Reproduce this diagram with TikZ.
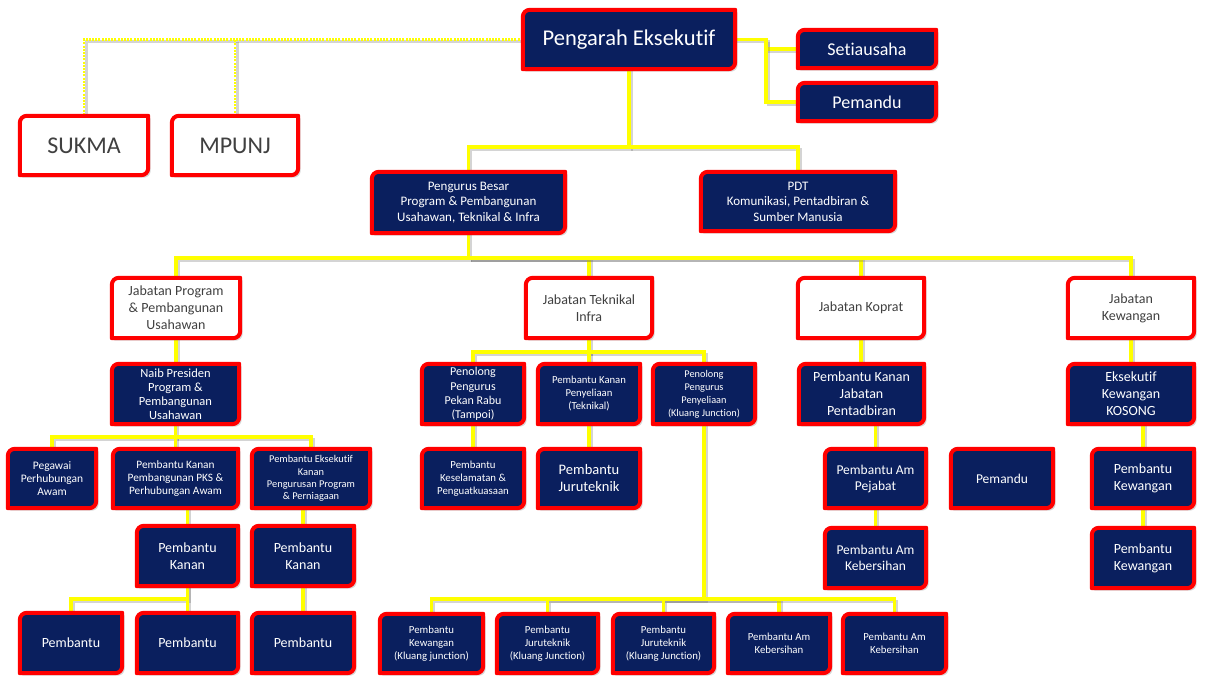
\documentclass[tikz,border=0pt]{standalone}
\usepackage{fontspec}
\setmainfont{Carlito}[Ligatures={NoCommon}]
\usetikzlibrary{shadows}
\definecolor{navy}{HTML}{0A1F5E}
\definecolor{bred}{HTML}{FF0000}
\definecolor{lyel}{HTML}{FFFF00}
\definecolor{txtg}{HTML}{404040}
\pgfdeclarelayer{bg}\pgfdeclarelayer{lines}\pgfdeclarelayer{boxes}
\pgfsetlayers{bg,lines,boxes,main}
\tikzset{
 bx/.style 2 args={minimum width=#1pt, minimum height=#2pt, inner sep=0pt, align=center},
 fs/.style 2 args={font=\fontsize{#1}{#2}\selectfont},
 nv/.style={text=white},
 wt/.style={text=txtg},
 conn/.style={draw=lyel, line width=3.5pt, preaction={draw=black!60, opacity=.28, line width=3pt, transform canvas={shift={(2pt,-2pt)}}}},
 dconn/.style={conn, line width=2.6pt, dash pattern=on 2pt off 1.2pt},
 boxline/.style={draw=bred, line width=4pt, line join=round, drop shadow={shadow xshift=2.5pt, shadow yshift=-2.5pt, opacity=.3}}
}
\begin{document}
\begin{tikzpicture}[x=1pt,y=1pt]
\useasboundingbox (0,0) rectangle (1205,-683);
\begin{pgfonlayer}{bg}\fill[white] (0,0) rectangle (1205,-683);\end{pgfonlayer}

% top
\node[bx={212}{59}, fs={22.5}{26}, nv] (pe) at (629,-39.5) {Pengarah Eksekutif};
\node[bx={138}{38}, fs={18}{21}, nv] (set) at (867,-49) {Setiausaha};
\node[bx={138}{38}, fs={18}{21}, nv] (pm1) at (867,-102) {Pemandu};
\node[bx={128}{59}, fs={24}{28}, wt] (sukma) at (84,-145.5) {SUKMA};
\node[bx={126}{59}, fs={24}{28}, wt] (mpunj) at (235,-145.5) {MPUNJ};
\node[bx={193}{61}, fs={13}{15.5}, nv] (pb) at (468.5,-202.5) {Pengurus Besar\\Program \& Pembangunan\\Usahawan, Teknikal \& Infra};
\node[bx={194}{59}, fs={13}{15.5}, nv] (pdt) at (798,-201.5) {PDT\\Komunikasi, Pentadbiran \&\\Sumber Manusia};

% jabatan row
\node[bx={128}{60}, fs={14}{17}, wt] (jp) at (176,-308) {Jabatan Program\\\& Pembangunan\\Usahawan};
\node[bx={126}{60}, fs={14}{17}, wt] (jt) at (589,-308) {Jabatan Teknikal\\Infra};
\node[bx={126}{60}, fs={14}{17}, wt] (jk) at (861,-308) {Jabatan Koprat};
\node[bx={126}{60}, fs={14}{17}, wt] (jw) at (1131,-308) {Jabatan\\Kewangan};

% program branch
\node[bx={127}{60}, fs={12.5}{14.2}, nv] (np) at (175.5,-394) {Naib Presiden\\Program \&\\Pembangunan\\Usahawan};
\node[bx={88}{59}, fs={11.5}{13}, nv] (ppa) at (52,-478.5) {Pegawai\\Perhubungan\\Awam};
\node[bx={125}{59}, fs={11.3}{13}, nv] (pks) at (175.5,-478.5) {Pembantu Kanan\\Pembangunan PKS \&\\Perhubungan Awam};
\node[bx={118}{59}, fs={10.4}{12.2}, nv] (pek) at (311,-478.5) {Pembantu Eksekutif\\Kanan\\Pengurusan Program\\\& Perniagaan};
\node[bx={101}{60}, fs={14}{17}, nv] (pk1) at (187.5,-556) {Pembantu\\Kanan};
\node[bx={102}{60}, fs={14}{17}, nv] (pk2) at (303,-556) {Pembantu\\Kanan};
\node[bx={102}{60}, fs={14}{17}, nv] (pb1) at (71,-643) {Pembantu};
\node[bx={101}{60}, fs={14}{17}, nv] (pb2) at (187.5,-643) {Pembantu};
\node[bx={102}{60}, fs={14}{17}, nv] (pb3) at (303,-643) {Pembantu};

% teknikal branch
\node[bx={102}{60}, fs={12}{14.2}, nv] (ppr) at (473,-394) {Penolong\\Pengurus\\Pekan Rabu\\(Tampoi)};
\node[bx={102}{60}, fs={10.7}{13}, nv] (pkp) at (589,-394) {Pembantu Kanan\\Penyeliaan\\(Teknikal)};
\node[bx={102}{60}, fs={10.3}{13}, nv] (ppj) at (704,-394) {Penolong\\Pengurus\\Penyeliaan\\(Kluang Junction)};
\node[bx={102}{59}, fs={10.8}{13}, nv] (pkk) at (473,-478.5) {Pembantu\\Keselamatan \&\\Penguatkuasaan};
\node[bx={102}{59}, fs={14.5}{17}, nv] (pju) at (589,-478.5) {Pembantu\\Juruteknik};
\node[bx={103}{59}, fs={10.8}{13}, nv] (b1) at (431.5,-643.5) {Pembantu\\Kewangan\\(Kluang junction)};
\node[bx={101}{59}, fs={10.8}{13}, nv] (b2) at (547.5,-643.5) {Pembantu\\Juruteknik\\(Kluang Junction)};
\node[bx={101}{59}, fs={10.8}{13}, nv] (b3) at (663.5,-643.5) {Pembantu\\Juruteknik\\(Kluang Junction)};
\node[bx={102}{59}, fs={10.8}{13}, nv] (b4) at (779,-643.5) {Pembantu Am\\Kebersihan};
\node[bx={103}{59}, fs={10.8}{13}, nv] (b5) at (894.5,-643.5) {Pembantu Am\\Kebersihan};

% koprat branch
\node[bx={125}{60}, fs={14}{17}, nv] (pkj) at (861.5,-394) {Pembantu Kanan\\Jabatan\\Pentadbiran};
\node[bx={101}{59}, fs={13.5}{16}, nv] (pap) at (875.5,-478.5) {Pembantu Am\\Pejabat};
\node[bx={101}{60}, fs={13.5}{16}, nv] (pak) at (875.5,-558) {Pembantu Am\\Kebersihan};
\node[bx={102}{59}, fs={13.5}{16}, nv] (pm2) at (1002,-478.5) {Pemandu};

% kewangan branch
\node[bx={126}{60}, fs={14}{17}, nv] (ekk) at (1131,-394) {Eksekutif\\Kewangan\\KOSONG};
\node[bx={102}{59}, fs={14}{17}, nv] (pkw1) at (1143,-478.5) {Pembantu\\Kewangan};
\node[bx={102}{60}, fs={14}{17}, nv] (pkw2) at (1143,-558) {Pembantu\\Kewangan};

% box shapes
\begin{pgfonlayer}{boxes}
\foreach \n/\c in {pe/navy,set/navy,pm1/navy,sukma/white,mpunj/white,pb/navy,pdt/navy,jp/white,jt/white,jk/white,jw/white,np/navy,ppa/navy,pks/navy,pek/navy,pk1/navy,pk2/navy,pb1/navy,pb2/navy,pb3/navy,ppr/navy,pkp/navy,ppj/navy,pkk/navy,pju/navy,b1/navy,b2/navy,b3/navy,b4/navy,b5/navy,pkj/navy,pap/navy,pak/navy,pm2/navy,ekk/navy,pkw1/navy,pkw2/navy}{
 \draw[boxline, fill=\c] ([xshift=7pt]\n.north west) -- (\n.north east) -- ([yshift=7pt]\n.south east) arc[start angle=0,end angle=-90,radius=7pt] -- (\n.south west) -- ([yshift=-7pt]\n.north west) arc[start angle=180,end angle=90,radius=7pt] -- cycle;
}
\end{pgfonlayer}

% connectors
\coordinate (h1) at (0,-147);
\coordinate (h2) at (0,-258);
\coordinate (h3) at (0,-437);
\coordinate (h4) at (0,-599);
\coordinate (h5) at (0,-352);
\begin{pgfonlayer}{lines}
\draw[dconn] (pe.west) -| (sukma.north);
\draw[dconn] (mpunj.north) -- (mpunj.north |- pe.west);
\draw[conn] (pe.east) -- ([xshift=31pt]pe.east) |- (set.west);
\draw[conn] ([xshift=31pt]pe.east) |- (pm1.west);
\draw[conn] (pe.south) -- (pe.south |- h1) -| (pb.north);
\draw[conn] (pe.south |- h1) -| (pdt.north);
\draw[conn] (pb.south) -- (pb.south |- h2) -| (jp.north);
\draw[conn] (pb.south |- h2) -| (jt.north);
\draw[conn] (pb.south |- h2) -| (jk.north);
\draw[conn] (pb.south |- h2) -| (jw.north);
% program
\draw[conn] (jp.south) -- (jp.south |- np.north);
\draw[conn] (np.south) -- (np.south |- h3) -| (ppa.north);
\draw[conn] (np.south |- h3) -| (pks.north);
\draw[conn] (np.south |- h3) -| (pek.north);
\draw[conn] (pk1.north) -- (pk1.north |- pks.south);
\draw[conn] (pk2.north) -- (pk2.north |- pek.south);
\draw[conn] (pk1.south) -- (pk1.south |- h4) -| (pb1.north);
\draw[conn] (pk1.south) -- (pb2.north);
\draw[conn] (pk2.south) -- (pb3.north);
% teknikal
\draw[conn] (jt.south) -- (jt.south |- h5) -| (ppr.north);
\draw[conn] (jt.south |- h5) -| (pkp.north);
\draw[conn] (jt.south |- h5) -| (ppj.north);
\draw[conn] (ppr.south) -- (pkk.north);
\draw[conn] (pkp.south) -- (pju.north);
\draw[conn] (ppj.south) -- (ppj.south |- h4) -| (b1.north);
\draw[conn] (ppj.south |- h4) -| (b2.north);
\draw[conn] (ppj.south |- h4) -| (b3.north);
\draw[conn] (ppj.south |- h4) -| (b4.north);
\draw[conn] (ppj.south |- h4) -| (b5.north);
% koprat
\draw[conn] (jk.south) -- (jk.south |- pkj.north);
\draw[conn] (pap.north) -- (pap.north |- pkj.south);
\draw[conn] (pap.south) -- (pak.north);
% kewangan
\draw[conn] (jw.south) -- (jw.south |- ekk.north);
\draw[conn] (pkw1.north) -- (pkw1.north |- ekk.south);
\draw[conn] (pkw1.south) -- (pkw2.north);
\end{pgfonlayer}
\end{tikzpicture}
\end{document}
